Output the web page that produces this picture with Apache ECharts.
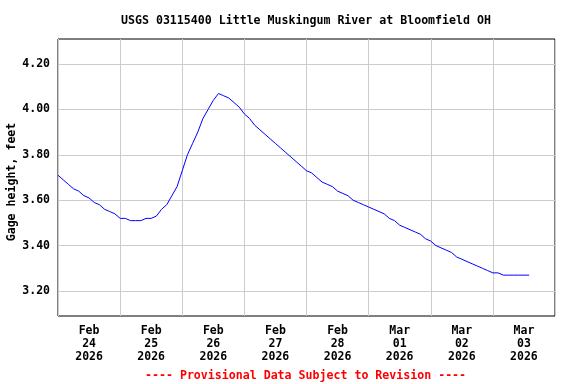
<!DOCTYPE html>
<html>
<head>
<meta charset="utf-8">
<script src="https://cdn.jsdelivr.net/npm/echarts@6/dist/echarts.min.js"></script>
<style>html,body{margin:0;padding:0;background:#fff}#c{width:576px;height:384px}</style>
</head>
<body>
<div id="c"></div>
<script>
// hours since Feb 24 2026 00:00
var hours = [0,2,4,6,8,10,12,14,16,18,20,22,24,26,28,30,32,34,36,38,40,42,44,46,48,50,52,54,56,58,60,62,64,66,68,70,72,74,76,78,80,82,84,86,88,90,92,94,96,98,100,102,104,106,108,110,112,114,116,118,120,122,124,126,128,130,132,134,136,138,140,142,144,146,148,150,152,154,156,158,160,162,164,166,168,170,172,174,176,178,180,182];
var gage = [3.71,3.69,3.67,3.65,3.64,3.62,3.61,3.59,3.58,3.56,3.55,3.54,3.52,3.52,3.51,3.51,3.51,3.52,3.52,3.53,3.56,3.58,3.62,3.66,3.73,3.80,3.85,3.90,3.96,4.00,4.04,4.07,4.06,4.05,4.03,4.01,3.98,3.96,3.93,3.91,3.89,3.87,3.85,3.83,3.81,3.79,3.77,3.75,3.73,3.72,3.70,3.68,3.67,3.66,3.64,3.63,3.62,3.60,3.59,3.58,3.57,3.56,3.55,3.54,3.52,3.51,3.49,3.48,3.47,3.46,3.45,3.43,3.42,3.40,3.39,3.38,3.37,3.35,3.34,3.33,3.32,3.31,3.30,3.29,3.28,3.28,3.27,3.27,3.27,3.27,3.27,3.27];
var dayMonths = ['Feb','Feb','Feb','Feb','Feb','Mar','Mar','Mar'];
var dayNums = ['24','25','26','27','28','01','02','03'];
var dayYears = ['2026','2026','2026','2026','2026','2026','2026','2026'];
var yTicks = [3.20,3.40,3.60,3.80,4.00,4.20];

var FONT = 'DejaVu Sans Mono';
var data = hours.map(function(h,i){return [h, gage[i]];});
var labelPos = dayNums.map(function(d,i){return i*24+12;});

var chart = echarts.init(document.getElementById('c'));
chart.setOption({
  animation: false,
  backgroundColor: '#fff',
  title: [
    {text: 'USGS 03115400 Little Muskingum River at Bloomfield OH', left: 121, top: 15, padding: 0,
     textStyle: {fontFamily: FONT, fontWeight: 'bold', fontSize: 11.6, color: '#000'}},
    {text: '---- Provisional Data Subject to Revision ----', left: 145, top: 370, padding: 0,
     textStyle: {fontFamily: FONT, fontWeight: 'bold', fontSize: 11.6, color: '#ff0000'}}
  ],
  graphic: [{
    type: 'text', x: 12, y: 182, rotation: Math.PI / 2,
    style: {text: 'Gage height, feet', align: 'center', verticalAlign: 'middle',
            font: 'bold 11.6px "DejaVu Sans Mono"', fill: '#000'}
  }],
  grid: {left: 58, right: 21, top: 39, bottom: 68, outerBoundsMode: 'none', containLabel: false,
         show: true, borderColor: '#000', borderWidth: 1, backgroundColor: 'transparent'},
  xAxis: {
    type: 'value', min: 0, max: 192, interval: 24,
    axisLine: {show: false}, axisTick: {show: false},
    splitLine: {show: true, lineStyle: {color: '#cccccc', width: 1}},
    axisLabel: {
      customValues: labelPos,
      margin: 9, lineHeight: 13,
      fontFamily: FONT, fontWeight: 'bold', fontSize: 11.5, color: '#000',
      formatter: function(v){ var i = Math.round((v-12)/24); return dayMonths[i]+'\n'+dayNums[i]+'\n'+dayYears[i]; }
    }
  },
  yAxis: {
    type: 'value', min: 3.09, max: 4.31,
    axisLine: {show: false},
    axisTick: {show: false, customValues: yTicks},
    splitLine: {show: true, lineStyle: {color: '#cccccc', width: 1}},
    axisLabel: {
      customValues: yTicks, margin: 8,
      fontFamily: FONT, fontWeight: 'bold', fontSize: 11.5, color: '#000',
      formatter: function(v){ return v.toFixed(2); }
    }
  },
  series: [{
    type: 'line', data: data, symbol: 'none', showSymbol: false,
    lineStyle: {color: '#0000ff', width: 1}, z: 3
  }]
});
</script>
</body>
</html>
